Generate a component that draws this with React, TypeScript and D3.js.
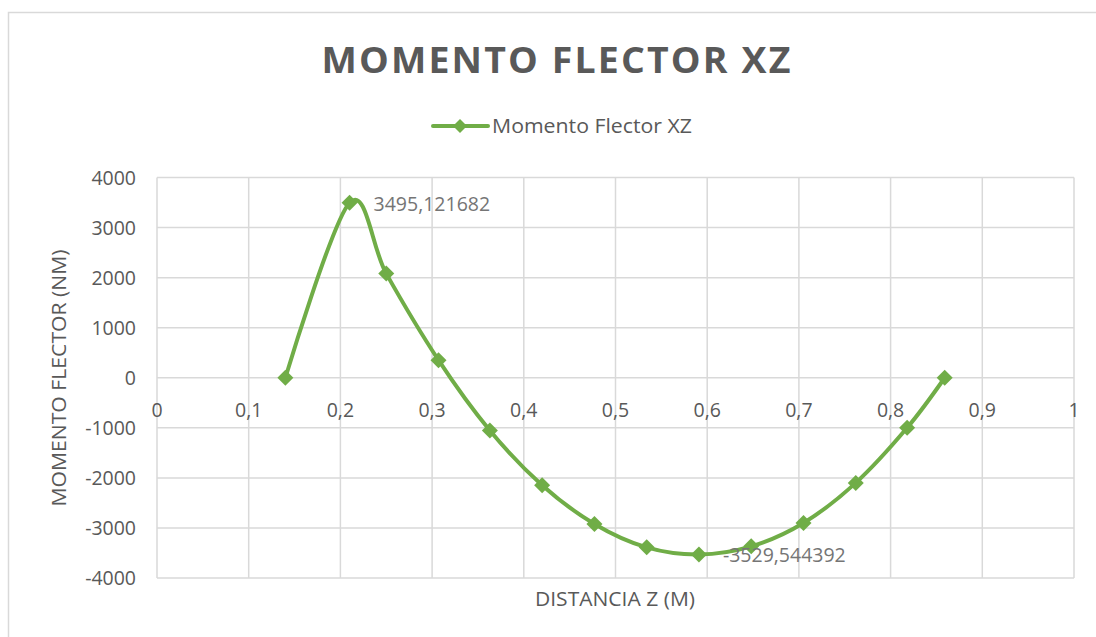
import React from "react";
import * as d3 from "d3";

const distances = [0.14, 0.21, 0.25, 0.307, 0.363, 0.42, 0.477, 0.534, 0.591, 0.648, 0.705, 0.762, 0.818, 0.859];
const moments = [0, 3495.121682, 2080, 352, -1054, -2148, -2920, -3388, -3529.544392, -3368, -2900, -2100, -1000, 0];
const xTicks = [0, 0.1, 0.2, 0.3, 0.4, 0.5, 0.6, 0.7, 0.8, 0.9, 1];
const yTicks = [4000, 3000, 2000, 1000, 0, -1000, -2000, -3000, -4000];
const labelledIndices = [1, 8];

const title = "MOMENTO FLECTOR XZ";
const seriesName = "Momento Flector XZ";
const xTitle = "DISTANCIA Z (M)";
const yTitle = "MOMENTO FLECTOR (NM)";

const W = 1096;
const H = 637;
const left = 157;
const right = 1074;
const top = 177.5;
const bottom = 578;
const green = "#70AD47";
const textColor = "#595959";
const grid = "#d9d9d9";
const font = "'Open Sans', sans-serif";

const fmt = (v: number) => String(v).replace(".", ",");

export default function App() {
  const x = d3.scaleLinear().domain([0, 1]).range([left, right]);
  const y = d3.scaleLinear().domain([-4000, 4000]).range([bottom, top]);
  const pts: [number, number][] = distances.map((d, i) => [x(d), y(moments[i])]);
  const line = d3.line().curve(d3.curveCardinal.tension(0))(pts) || "";
  const diamond = (cx: number, cy: number, r: number) =>
    `M${cx},${cy - r}L${cx + r},${cy}L${cx},${cy + r}L${cx - r},${cy}Z`;

  return (
    <svg
      width={W}
      height={H}
      style={{ position: "absolute", left: 0, top: 0, background: "#fff" }}
    >
      <rect x={8.5} y={12.5} width={1200} height={700} fill="#fff" stroke={grid} strokeWidth={1.5} />
      <text
        x={557}
        y={72.5}
        textAnchor="middle"
        fontFamily={font}
        fontWeight="bold"
        fontSize={35}
        fill={textColor}
        textLength={471}
        lengthAdjust="spacingAndGlyphs"
        letterSpacing={2}
      >
        {title}
      </text>
      {/* legend */}
      <line x1={433} x2={488} y1={126} y2={126} stroke={green} strokeWidth={4} strokeLinecap="round" />
      <path d={diamond(460, 126, 7)} fill={green} />
      <text x={492} y={132.5} fontFamily={font} fontSize={19.5} fill={textColor} textLength={200} lengthAdjust="spacingAndGlyphs">
        {seriesName}
      </text>
      {/* grid */}
      {xTicks.map((t) => (
        <line key={"gx" + t} x1={x(t)} x2={x(t)} y1={top} y2={bottom} stroke={grid} strokeWidth={1.5} />
      ))}
      {yTicks.map((t) => (
        <line key={"gy" + t} x1={left} x2={right} y1={y(t)} y2={y(t)} stroke={grid} strokeWidth={1.5} />
      ))}
      {/* y tick labels */}
      {yTicks.map((t) => (
        <text key={"ty" + t} x={136} y={y(t) + 7} textAnchor="end" fontFamily={font} fontSize={19.5} fill={textColor}>
          {t}
        </text>
      ))}
      {/* x tick labels */}
      {xTicks.map((t) => (
        <text key={"tx" + t} x={x(t)} y={417} textAnchor="middle" fontFamily={font} fontSize={19.5} fill={textColor}>
          {fmt(t)}
        </text>
      ))}
      {/* axis titles */}
      <text x={615} y={606} textAnchor="middle" fontFamily={font} fontSize={19.5} fill={textColor} textLength={160} lengthAdjust="spacingAndGlyphs">
        {xTitle}
      </text>
      <text
        transform={`translate(66,378) rotate(-90)`}
        textAnchor="middle"
        fontFamily={font}
        fontSize={19.5}
        fill={textColor}
        textLength={257}
        lengthAdjust="spacingAndGlyphs"
      >
        {yTitle}
      </text>
      {/* series */}
      <path d={line} fill="none" stroke={green} strokeWidth={4} strokeLinejoin="round" />
      {pts.map(([px, py], i) => (
        <path key={"m" + i} d={diamond(px, py, 8)} fill={green} />
      ))}
      {labelledIndices.map((i) => (
        <text key={"dl" + i} x={pts[i][0] + 24} y={pts[i][1] + 8} fontFamily={font} fontSize={19.5} fill="#757575">
          {fmt(moments[i])}
        </text>
      ))}
    </svg>
  );
}
